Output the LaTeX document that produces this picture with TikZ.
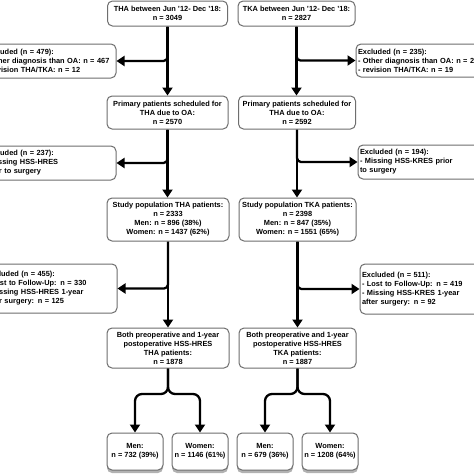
\documentclass[tikz,border=0pt]{standalone}
\usepackage{fontspec}
\setmainfont{Liberation Sans}
\usetikzlibrary{arrows.meta,shadows,calc}
\definecolor{boxgray}{HTML}{6E6E6E}
\tikzset{
  box/.style={draw=boxgray, line width=1pt, rounded corners=5pt, fill=white,
    inner sep=1pt, align=center, font=\bfseries\fontsize{7.4}{9}\selectfont},
  exbox/.style={box, align=left, inner xsep=2pt, text width=129pt},
  shbox/.style={box, drop shadow={shadow xshift=0pt, shadow yshift=-3pt, fill=gray, opacity=0.6}},
  arr/.style={-{Triangle[width=10pt,length=8pt]}, line width=2.3pt, black},
}
\begin{document}
\begin{tikzpicture}[x=1pt,y=-1pt]
\useasboundingbox (0,0) rectangle (474,474);
\clip (0,0) rectangle (474,474);
\fill[white] (0,0) rectangle (474,474);
% top
\node[box, minimum width=120pt, minimum height=25pt] (tha) at (167.5,13.5) {THA between Jun '12- Dec '18:\\n = 3049};
\node[box, minimum width=117pt, minimum height=25pt] (tka) at (296.5,13.5) {TKA between Jun '12- Dec '18:\\n = 2827};
\node[exbox, minimum height=34pt] (ex1) at (49.5,61) {Excluded (n = 479):\\- Other diagnosis than OA: n = 467\\- revision THA/TKA: n = 12};
\node[exbox, minimum height=33pt] (ex1r) at (422.5,60.5) {Excluded (n = 235):\\- Other diagnosis than OA: n = 216\\- revision THA/TKA: n = 19};
% primary
\node[box, minimum width=121pt, minimum height=33pt] (prim) at (167.5,112.5) {Primary patients scheduled for\\THA due to OA:\\n = 2570};
\node[box, minimum width=117pt, minimum height=33pt] (primk) at (297,112.5) {Primary patients scheduled for\\THA due to OA:\\n = 2592};
\node[exbox, minimum height=34pt] (ex2) at (49.5,163) {Excluded (n = 237):\\- Missing HSS-HRES\\prior to surgery};
\node[exbox, minimum height=34pt] (ex2r) at (424.5,162) {Excluded (n = 194):\\- Missing HSS-KRES prior\\to surgery};
% study
\node[box, minimum width=122pt, minimum height=43pt] (study) at (168,219.5) {Study population THA patients:\\n = 2333\\Men: n = 896 (38\%)\\Women: n = 1437 (62\%)};
\node[box, minimum width=117pt, minimum height=43pt] (studyk) at (297.5,219.5) {Study population TKA patients:\\n = 2398\\Men: n = 847 (35\%)\\Women: n = 1551 (65\%)};
\node[exbox, minimum height=49pt] (ex3) at (50.5,288.5) {Excluded (n = 455):\\- Lost to Follow-Up: n = 330\\- Missing HSS-HRES 1-year\\after surgery: n = 125};
\node[exbox, minimum height=50pt] (ex3r) at (426.5,289) {Excluded (n = 511):\\- Lost to Follow-Up: n = 419\\- Missing HSS-KRES 1-year\\after surgery: n = 92};
% both
\node[box, minimum width=122pt, minimum height=40pt] (both) at (168,348) {Both preoperative and 1-year\\postoperative HSS-HRES\\THA patients:\\n = 1878};
\node[box, minimum width=117pt, minimum height=40pt] (bothk) at (297.5,348) {Both preoperative and 1-year\\postoperative HSS-HRES\\TKA patients:\\n = 1887};
% sexes
\node[shbox, minimum width=56pt, minimum height=37pt] (men) at (135,451.5) {Men:\\n = 732 (39\%)};
\node[shbox, minimum width=56pt, minimum height=37pt] (women) at (200,451.5) {Women:\\n = 1146 (61\%)};
\node[shbox, minimum width=56pt, minimum height=37pt] (menk) at (265,451.5) {Men:\\n = 679 (36\%)};
\node[shbox, minimum width=56pt, minimum height=37pt] (womenk) at (330,451.5) {Women:\\n = 1208 (64\%)};
\coordinate (sp) at (168,394);
\coordinate (spk) at (297.5,394);
% connectors
\draw[arr] (tha.south) -- (tha.south |- prim.north);
\draw[arr, rounded corners=4pt] (tha.south) |- (ex1.east);
\draw[arr] (tka.south) -- (tka.south |- primk.north);
\draw[arr, rounded corners=4pt] (tka.south) |- (ex1r.west);
\draw[arr] (prim.south) -- (prim.south |- study.north);
\draw[arr, rounded corners=4pt] (prim.south) |- (ex2.east);
\draw[arr] (primk.south) -- (primk.south |- studyk.north);
\draw[arr, rounded corners=4pt] (primk.south) |- (ex2r.west);
\draw[arr] (study.south) -- (study.south |- both.north);
\draw[arr, rounded corners=4pt] (study.south) |- (ex3.east);
\draw[arr] (studyk.south) -- (studyk.south |- bothk.north);
\draw[arr, rounded corners=4pt] (studyk.south) |- (ex3r.west);
\draw[arr, rounded corners=7pt] (both.south) -- (sp) -| (men.north);
\draw[arr, rounded corners=7pt] (both.south) -- (sp) -| (women.north);
\draw[arr, rounded corners=7pt] (bothk.south) -- (spk) -| (menk.north);
\draw[arr, rounded corners=7pt] (bothk.south) -- (spk) -| (womenk.north);
\end{tikzpicture}
\end{document}
